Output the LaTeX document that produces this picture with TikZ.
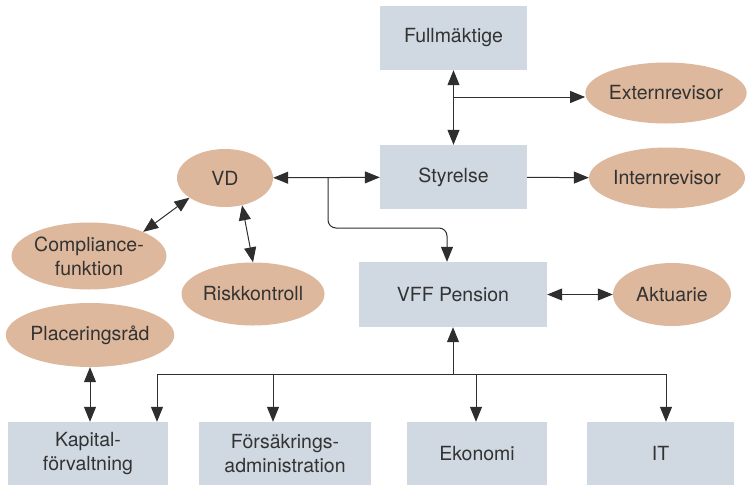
\documentclass[tikz,border=0pt]{standalone}
\usepackage{fontspec}
\setmainfont{TeX Gyre Heros}
\usepackage{xcolor}
\usepackage{tikz}
\usetikzlibrary{arrows.meta,shapes.geometric}

\definecolor{boxgray}{HTML}{D0D9E1}
\definecolor{ellbrown}{HTML}{DDB89C}
\definecolor{txtgray}{HTML}{333333}
\definecolor{linegray}{HTML}{2E2E2E}

\begin{document}
\begin{tikzpicture}[x=1pt,y=-1pt,
		box/.style={rectangle,fill=boxgray,inner sep=0pt,align=center,text=txtgray},
		ell/.style={ellipse,fill=ellbrown,inner sep=0pt,align=center,text=txtgray},
		every node/.style={font=\fontsize{19.5}{24}\selectfont},
		>={Triangle[length=15pt,width=12pt]}]
		\useasboundingbox (0,0) rectangle (747,485);
		% boxes
		\node[box,minimum width=147,minimum height=64] (F) at (453.5,38) {Fullmäktige};
		\node[box,minimum width=147,minimum height=64] (S) at (453.5,177) {Styrelse};
		\node[box,minimum width=188,minimum height=65] (P) at (453,294.5) {VFF Pension};
		\node[box,minimum width=160,minimum height=63] (K) at (88,453.5) {Kapital-\\förvaltning};
		\node[box,minimum width=172,minimum height=63] (A) at (285,453.5) {Försäkrings-\\administration};
		\node[box,minimum width=140,minimum height=63] (E) at (477,453.5) {Ekonomi};
		\node[box,minimum width=147,minimum height=63] (I) at (660.5,453.5) {IT};
		% ellipses
		\node[ell,minimum width=158,minimum height=61] (X) at (666,93) {Externrevisor};
		\node[ell,minimum width=156,minimum height=61] (N) at (667,178) {Internrevisor};
		\node[ell,minimum width=96,minimum height=58] (V) at (225,178) {VD};
		\node[ell,minimum width=152,minimum height=67] (C) at (89,256) {Compliance-\\funktion};
		\node[ell,minimum width=143,minimum height=63] (R) at (253,294) {Riskkontroll};
		\node[ell,minimum width=118,minimum height=63] (Q) at (672,294.5) {Aktuarie};
		\node[ell,minimum width=154,minimum height=64] (L) at (90,335) {Placeringsråd};
		%
		\coordinate (f) at (453,97);
		\coordinate (v) at (328,178);
		\coordinate (w) at (447,228);
		\coordinate (b) at (453,374);
		\coordinate (b1) at (157,374);
		\coordinate (b2) at (273,374);
		\coordinate (b3) at (476,374);
		\coordinate (b4) at (666,374);
		%
		\path[draw=linegray,line width=1pt,fill=linegray]
		% top
		(F) edge[<->] (S)
		(f) edge[->] (f -| X.west)
		(S) edge[->] (N)
		(V) edge[<->] (S)
		% left
		(V.209) edge[<->] (C.24)
		(V.302) edge[<->] (R.north)
		(L) edge[<->] (L.south |- K.north)
		% right
		(P) edge[<->] (Q)
		% bottom
		(b) edge[->] (P)
		(b1) edge (b4)
		(b1) edge[->] (b1 |- K.north)
		(b2) edge[->] (b2 |- A.north)
		(b3) edge[->] (b3 |- E.north)
		(b4) edge[->] (b4 |- I.north);
		\draw[linegray,line width=1pt,->,rounded corners=8pt] (v) |- (w) -- (w |- P.north);
		\end{tikzpicture}
\end{document}
